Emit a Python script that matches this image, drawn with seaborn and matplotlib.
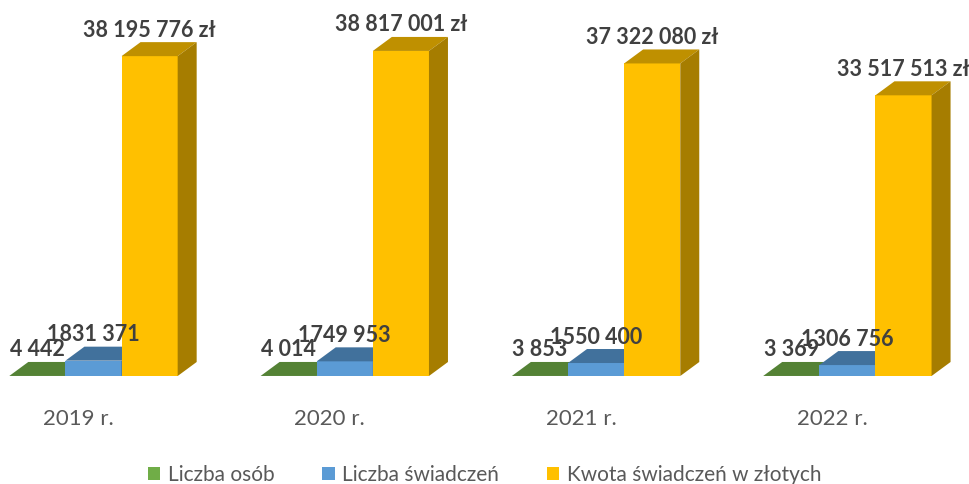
import numpy as np
import pandas as pd
import seaborn as sns
import matplotlib.pyplot as plt
import matplotlib.transforms as mtransforms
from matplotlib.patches import Polygon, Patch

# ---- data ----
years = ["2019 r.", "2020 r.", "2021 r.", "2022 r."]
series = ["Liczba osób", "Liczba świadczeń", "Kwota świadczeń w złotych"]
liczba_osob = [4442, 4014, 3853, 3369]
liczba_swiadczen = [1831371, 1749953, 1550400, 1306756]
kwota_zl = [38195776, 38817001, 37322080, 33517513]

front_cols = ["#70AD47", "#5B9BD5", "#FFC000"]
top_cols = ["#548235", "#41719C", "#BF9000"]
side_cols = ["#4A7530", "#3A6690", "#A67D00"]

df = pd.DataFrame({
    "Rok": years * 3,
    "Seria": np.repeat(series, len(years)),
    "Wartość": liczba_osob + liczba_swiadczen + kwota_zl,
})

sns.set_theme(style="white")
plt.rcParams["font.family"] = ["Lato", "DejaVu Sans"]

W, H, DPI = 969, 484, 100
fig = plt.figure(figsize=(W / DPI, H / DPI), dpi=DPI)
base_px = 108
ax = fig.add_axes([0, base_px / H, 1, (H - base_px) / H])

sns.barplot(data=df, x="Rok", y="Wartość", hue="Seria", palette=front_cols,
            width=0.67, saturation=1, ax=ax, legend=False, errorbar=None)

ax.set_xlim(-0.372, 3.484)
ymax = 44.9e6
ax.set_ylim(0, ymax)
for s in ax.spines.values():
    s.set_visible(False)
ax.set_xlabel("")
ax.set_ylabel("")
ax.set_yticks([])

# depth of the pseudo-3D extrusion, in pixels
DX, DY = 19, 14
ax_w_px = W
ax_h_px = H - base_px
dx = DX * (ax.get_xlim()[1] - ax.get_xlim()[0]) / ax_w_px
dy = DY * ymax / ax_h_px


def fmt_space(v):
    return f"{v:,}".replace(",", " ")


labels = [
    [fmt_space(v) for v in liczba_osob],
    [f"{v // 1000} {v % 1000:03d}" for v in liczba_swiadczen],
    [fmt_space(v) + " zł" for v in kwota_zl],
]

for i, cont in enumerate(ax.containers):
    for j, bar in enumerate(cont):
        x0 = bar.get_x()
        w = bar.get_width()
        h = bar.get_height()
        bar.set_zorder(3 + i)
        bar.set_edgecolor("none")
        topface = Polygon([(x0, h), (x0 + w, h), (x0 + w + dx, h + dy), (x0 + dx, h + dy)],
                          closed=True, facecolor=top_cols[i], edgecolor="none", zorder=3 + i)
        sideface = Polygon([(x0 + w, 0), (x0 + w + dx, dy), (x0 + w + dx, h + dy), (x0 + w, h)],
                           closed=True, facecolor=side_cols[i], edgecolor="none", zorder=3 + i)
        ax.add_patch(topface)
        ax.add_patch(sideface)
        ax.annotate(labels[i][j], xy=(x0 + w / 2, h), xytext=(0, DY + 12),
                    textcoords="offset pixels", ha="center", va="center",
                    fontsize=15.5, fontweight="bold", color="#404040",
                    zorder=10, annotation_clip=False)

ax.tick_params(axis="x", length=0, pad=24, labelsize=16, labelcolor="#595959")
shift = mtransforms.ScaledTranslation(-15 / DPI, 0, fig.dpi_scale_trans)
for lbl in ax.get_xticklabels():
    lbl.set_transform(lbl.get_transform() + shift)

handles = [Patch(facecolor=c, edgecolor="none", label=s) for c, s in zip(front_cols, series)]
fig.legend(handles=handles, loc="lower center", bbox_to_anchor=(0.5, -0.04), ncol=3,
           frameon=False, fontsize=15, labelcolor="#595959", handlelength=0.6,
           handleheight=0.6, handletextpad=0.35, columnspacing=2.3)

fig.savefig("out.png", dpi=DPI)
